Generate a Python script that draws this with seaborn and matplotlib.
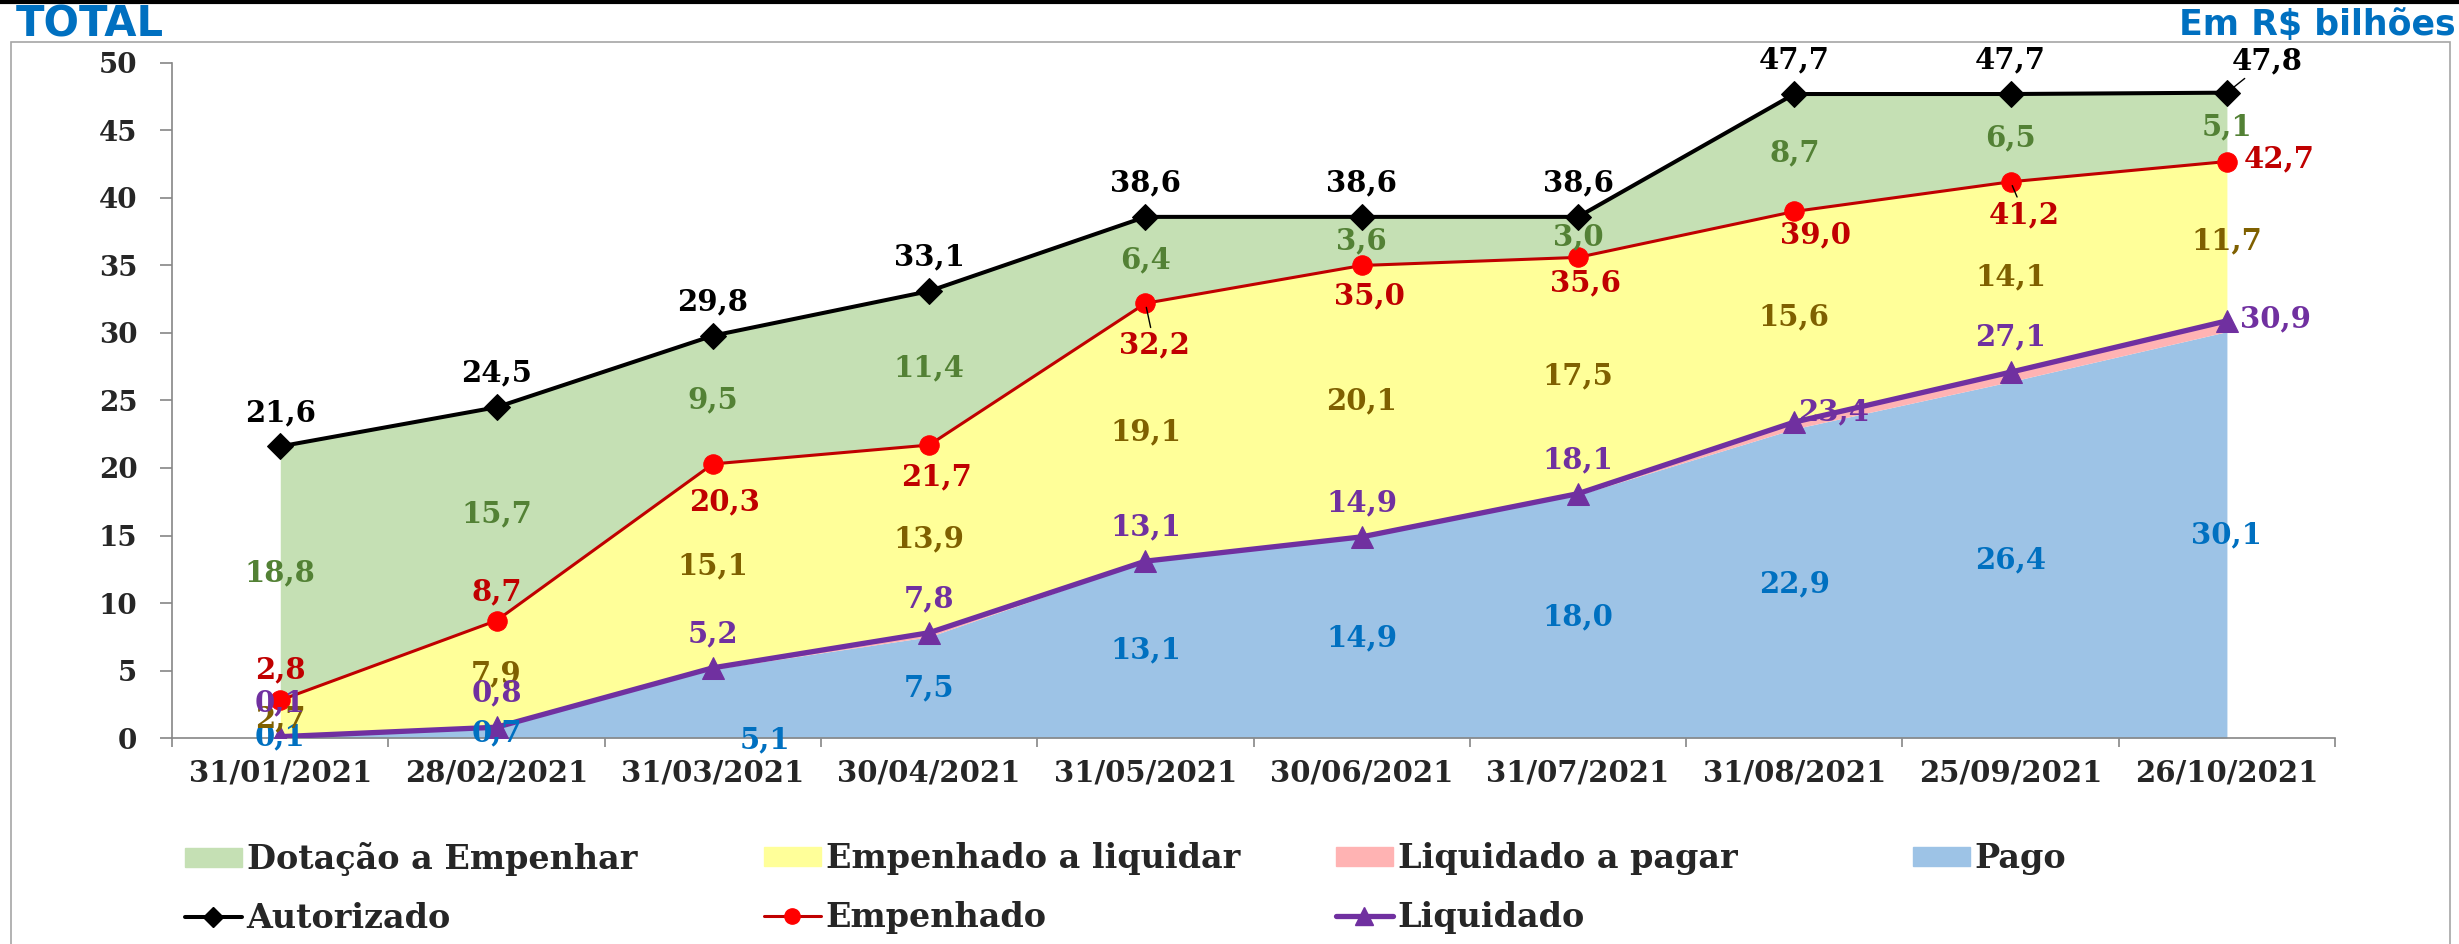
import numpy as np
import pandas as pd
import matplotlib
matplotlib.use('Agg')
import matplotlib.pyplot as plt
import seaborn as sns
from matplotlib.patches import Patch, Rectangle
from matplotlib.lines import Line2D

# valores (R$ bilhões)
datas = ['31/01/2021', '28/02/2021', '31/03/2021', '30/04/2021', '31/05/2021',
         '30/06/2021', '31/07/2021', '31/08/2021', '25/09/2021', '26/10/2021']
autorizado = [21.6, 24.5, 29.8, 33.1, 38.6, 38.6, 38.6, 47.7, 47.7, 47.8]
empenhado = [2.8, 8.7, 20.3, 21.7, 32.2, 35.0, 35.6, 39.0, 41.2, 42.7]
liquidado = [0.1, 0.8, 5.2, 7.8, 13.1, 14.9, 18.1, 23.4, 27.1, 30.9]
pago = [0.1, 0.7, 5.1, 7.5, 13.1, 14.9, 18.0, 22.9, 26.4, 30.1]
dotacao_a_empenhar = [18.8, 15.7, 9.5, 11.4, 6.4, 3.6, 3.0, 8.7, 6.5, 5.1]
empenhado_a_liquidar = [2.7, 7.9, 15.1, 13.9, 19.1, 20.1, 17.5, 15.6, 14.1, 11.7]

# deslocamento dos rótulos (pixels) -- posição manual como no Excel
off_aut = [(0, 34)] * 9 + [(40, 32)]
off_emp = [(0, 30), (0, 29), (12, -38), (7, -32), (9, -42), (8, -30), (7, -25),
           (21, -23), (14, -33), (52, 3)]
off_liq = [(0, 34)] * 7 + [(39, 10), (0, 35), (49, 2)]
off_pago = [(0, 0), (0, 0), (52, -36)] + [(0, 0)] * 7

cor_pago = '#9DC3E6'
cor_liq_pagar = '#FFB3B3'
cor_emp_liq = '#FFFF99'
cor_dot = '#C5E0B4'

sns.set_theme(style='white')
plt.rcParams['font.family'] = ['DejaVu Serif']
plt.rcParams['font.weight'] = 'bold'

fig = plt.figure(figsize=(24.59, 9.44), dpi=100)
ax = fig.add_axes([0.070, 0.2182, 0.8796, 0.7151])
x = np.arange(len(datas))

ax.fill_between(x, 0, pago, color=cor_pago, lw=0, zorder=1)
ax.fill_between(x, pago, liquidado, color=cor_liq_pagar, lw=0, zorder=1)
ax.fill_between(x, liquidado, empenhado, color=cor_emp_liq, lw=0, zorder=1)
ax.fill_between(x, empenhado, autorizado, color=cor_dot, lw=0, zorder=1)

df = pd.DataFrame({'x': x, 'Autorizado': autorizado, 'Empenhado': empenhado,
                   'Liquidado': liquidado})
sns.lineplot(data=df, x='x', y='Liquidado', ax=ax, color='#7030A0', lw=3.8,
             marker='^', markersize=16, markeredgecolor='#7030A0', zorder=4)
sns.lineplot(data=df, x='x', y='Empenhado', ax=ax, color='#C00000', lw=2.2,
             marker='o', markersize=14, markerfacecolor='#FF0000',
             markeredgecolor='#FF0000', zorder=5)
sns.lineplot(data=df, x='x', y='Autorizado', ax=ax, color='black', lw=2.9,
             marker='D', markersize=13, markeredgecolor='black', zorder=6)


def fmt(v):
    return f'{v:.1f}'.replace('.', ',')


def rotulo(xi, yi, txt, cor, off=(0, 0), leader=False):
    kw = {}
    if leader:
        kw['arrowprops'] = dict(arrowstyle='-', color='black', lw=1,
                                shrinkA=0, shrinkB=3)
    ax.annotate(txt, (xi, yi), xytext=(off[0] * 0.72, off[1] * 0.72),
                textcoords='offset points', ha='center', va='center',
                color=cor, fontsize=21, fontweight='bold', zorder=10, **kw)


for i in x:
    rotulo(i, pago[i] / 2, fmt(pago[i]), '#0070C0', off_pago[i])
    rotulo(i, (liquidado[i] + empenhado[i]) / 2, fmt(empenhado_a_liquidar[i]), '#7F6000')
    rotulo(i, (empenhado[i] + autorizado[i]) / 2, fmt(dotacao_a_empenhar[i]), '#538135')
    rotulo(i, liquidado[i], fmt(liquidado[i]), '#7030A0', off_liq[i])
    rotulo(i, empenhado[i], fmt(empenhado[i]), '#C00000', off_emp[i],
           leader=i in (4, 8))
    rotulo(i, autorizado[i], fmt(autorizado[i]), 'black', off_aut[i], leader=i == 9)

ax.set_xlim(-0.5, 9.5)
ax.set_ylim(0, 50)
ax.set_xticks(x)
ax.set_xticklabels(datas)
ax.set_xticks(np.arange(-0.5, 10, 1), minor=True)
ax.set_yticks(range(0, 51, 5))
ax.set_xlabel('')
ax.set_ylabel('')
ax.tick_params(axis='x', which='major', bottom=True, length=0, pad=15, labelsize=21)
ax.tick_params(axis='x', which='minor', bottom=True, length=6.5, width=1.2,
               color='#868686', direction='out')
ax.tick_params(axis='y', left=True, length=9, width=1.2, color='#868686',
               direction='out', pad=16, labelsize=20)
for s in ['top', 'right']:
    ax.spines[s].set_visible(False)
for s in ['left', 'bottom']:
    ax.spines[s].set_color('#868686')
    ax.spines[s].set_linewidth(1.2)

# legenda em 4 colunas com espaçamento igual
colunas = [
    [(Patch(color=cor_dot), 'Dotação a Empenhar'),
     (Line2D([], [], color='black', lw=2.9, marker='D', markersize=10), 'Autorizado')],
    [(Patch(color=cor_emp_liq), 'Empenhado a liquidar'),
     (Line2D([], [], color='#C00000', lw=2.2, marker='o', markersize=11,
             markerfacecolor='#FF0000', markeredgecolor='#FF0000'), 'Empenhado')],
    [(Patch(color=cor_liq_pagar), 'Liquidado a pagar'),
     (Line2D([], [], color='#7030A0', lw=3.8, marker='^', markersize=13), 'Liquidado')],
    [(Patch(color=cor_pago), 'Pago')],
]
pos_x = [0.0752, 0.3107, 0.5433, 0.778]
for px, col in zip(pos_x, colunas):
    fig.legend([h for h, _ in col], [t for _, t in col], loc='upper left',
               bbox_to_anchor=(px, 0.108), frameon=False, fontsize=24,
               handlelength=1.7, handleheight=0.5, handletextpad=0.15,
               labelspacing=0.78, borderpad=0, borderaxespad=0)

fig.text(0.0065, 0.961, 'TOTAL', family='DejaVu Sans', fontweight='bold',
         fontsize=30, color='#0070C0', va='baseline', ha='left')
fig.text(0.9988, 0.963, 'Em R$ bilhões', family='DejaVu Sans', fontweight='bold',
         fontsize=25, color='#0070C0', va='baseline', ha='right')

fig.add_artist(Rectangle((11 / 2459, -0.01), (2450 - 11) / 2459, 1 - 42 / 944 + 0.01,
                         transform=fig.transFigure, fill=False, ec='#A6A6A6', lw=1.2))
fig.add_artist(Line2D([0, 1], [0.9975, 0.9975], transform=fig.transFigure,
                      color='black', lw=3))

fig.savefig('out.png', dpi=100)
